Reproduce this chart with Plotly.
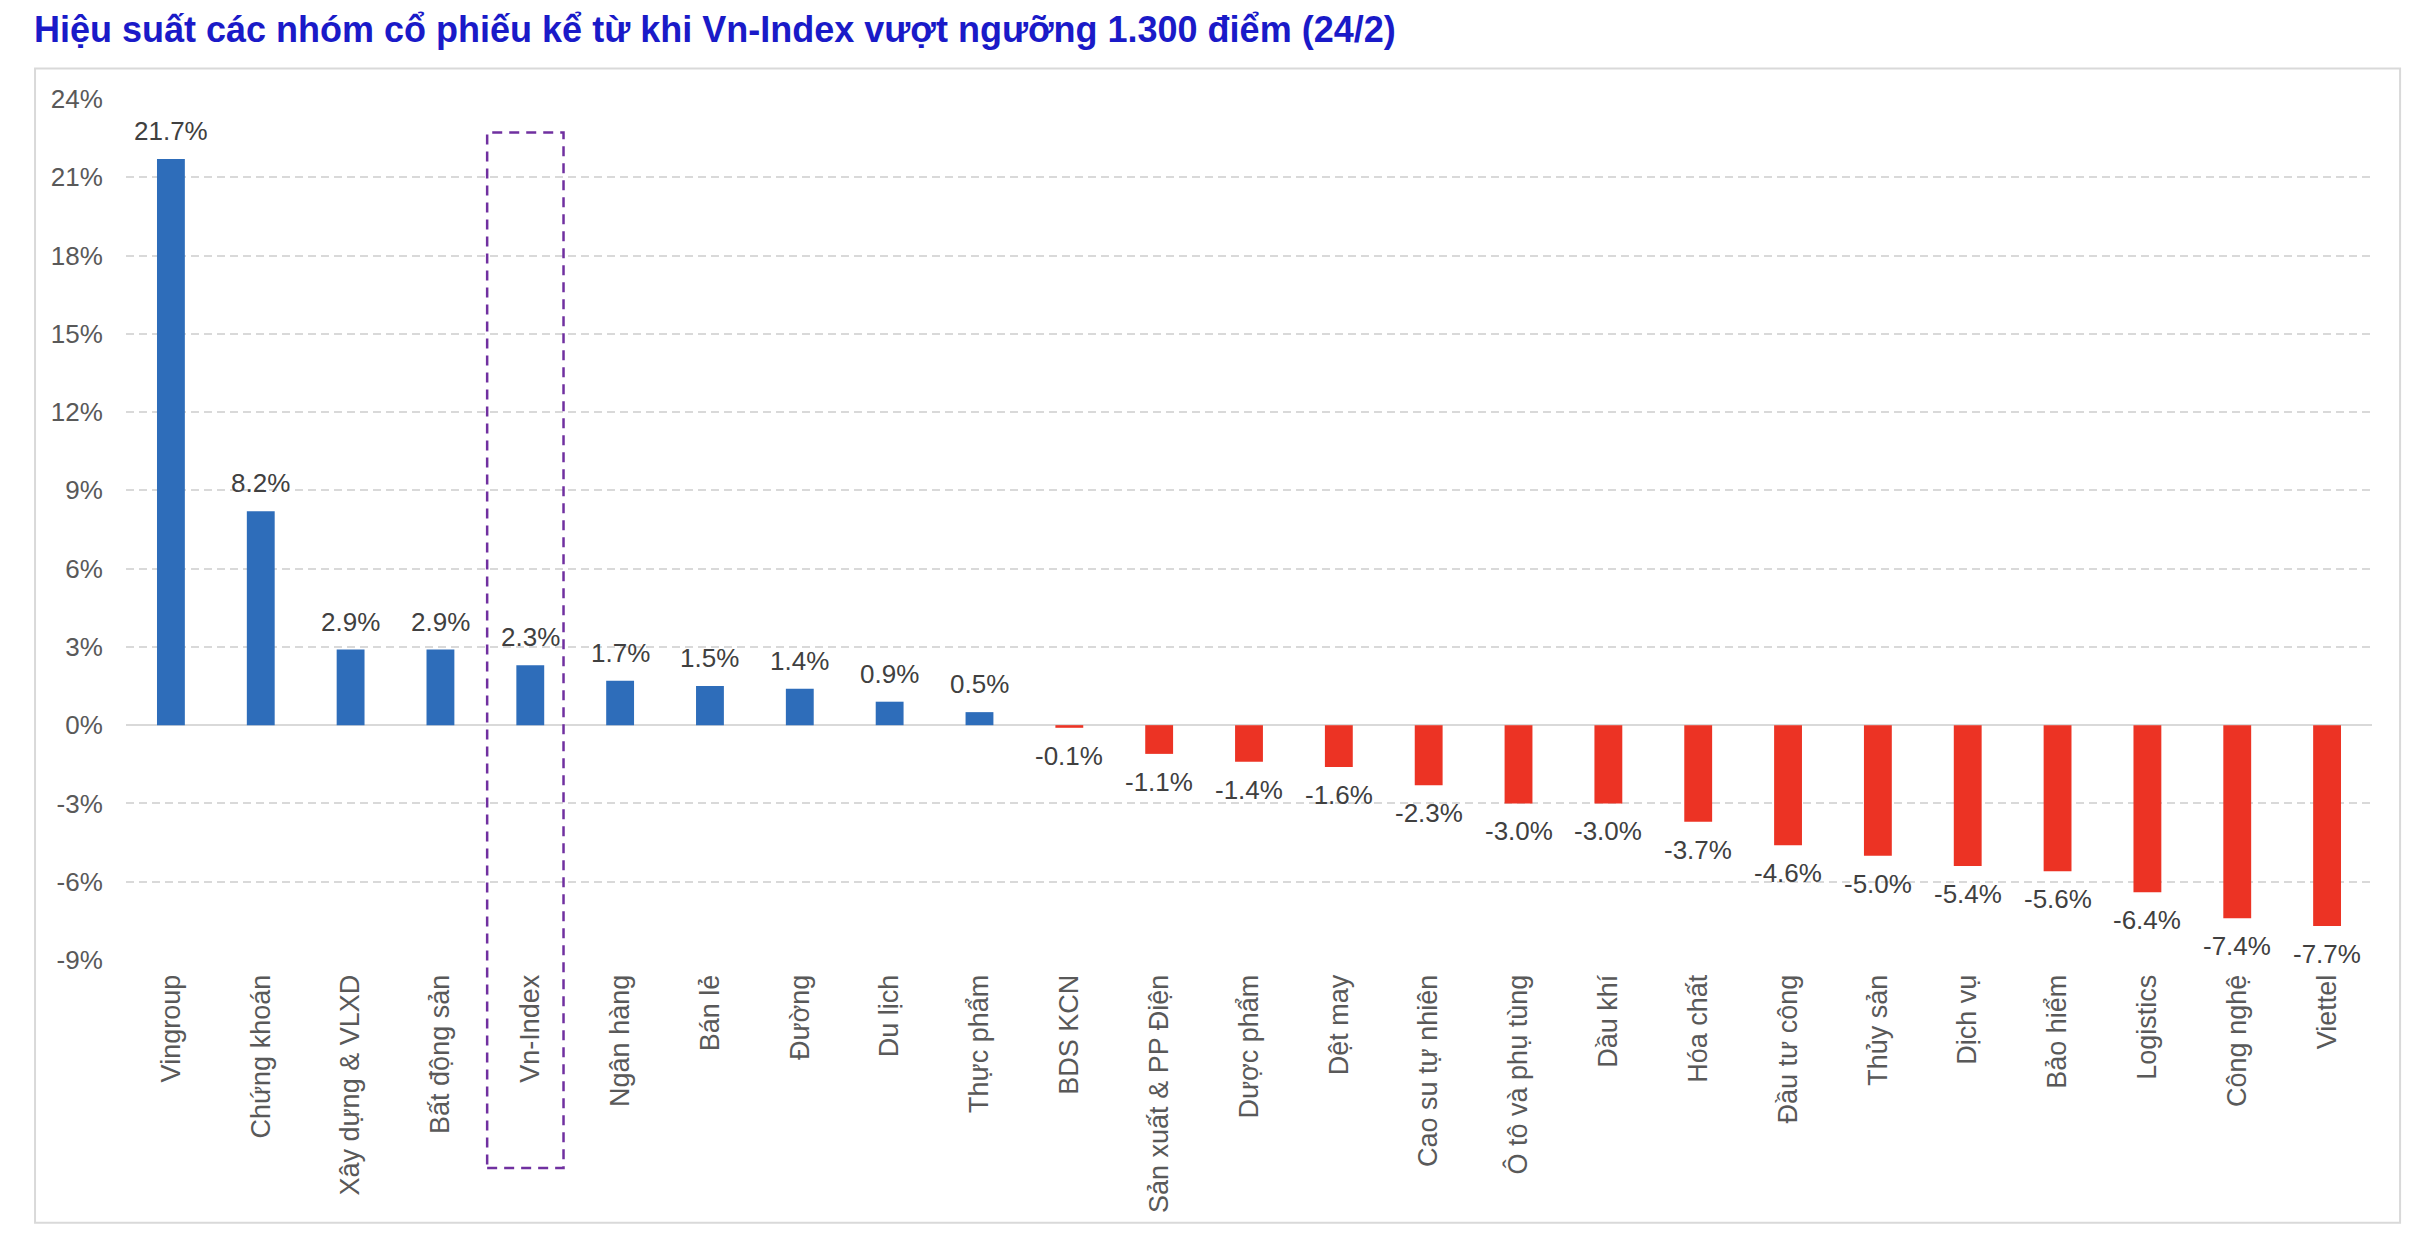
import plotly.graph_objects as go

categories = ["Vingroup", "Chứng khoán", "Xây dựng & VLXD", "Bất động sản", "Vn-Index",
              "Ngân hàng", "Bán lẻ", "Đường", "Du lịch", "Thực phẩm", "BDS KCN",
              "Sản xuất & PP Điện", "Dược phẩm", "Dệt may", "Cao su tự nhiên",
              "Ô tô và phụ tùng", "Dầu khí", "Hóa chất", "Đầu tư công", "Thủy sản",
              "Dịch vụ", "Bảo hiểm", "Logistics", "Công nghệ", "Viettel"]
values = [21.7, 8.2, 2.9, 2.9, 2.3, 1.7, 1.5, 1.4, 0.9, 0.5, -0.1,
          -1.1, -1.4, -1.6, -2.3, -3.0, -3.0, -3.7, -4.6, -5.0,
          -5.4, -5.6, -6.4, -7.4, -7.7]
y_ticks = [-9, -6, -3, 0, 3, 6, 9, 12, 15, 18, 21, 24]
y_tick_labels = [f"{v}%" for v in y_ticks]

BLUE = "#2E6DBA"
RED = "#EC3324"
colors = [BLUE if v >= 0 else RED for v in values]
labels = [f"{v:.1f}%" for v in values]

FONT = "Liberation Sans, Arial, sans-serif"

fig = go.Figure()
fig.add_trace(go.Bar(
    x=list(range(len(categories))), y=values,
    marker=dict(color=colors, line=dict(width=0)),
    width=0.31, hoverinfo="skip",
))

# data labels
for i, (v, t) in enumerate(zip(values, labels)):
    fig.add_annotation(x=i, y=v, xref="x", yref="y", text=t, showarrow=False,
                       yanchor="bottom" if v >= 0 else "top",
                       yshift=11 if v >= 0 else -11,
                       font=dict(family=FONT, size=26, color="#404040"))

# Vn-Index highlight box (dashed purple)
vn_idx = categories.index("Vn-Index")
fig.add_shape(type="rect", xref="x", yref="paper",
              x0=vn_idx - 0.48, x1=vn_idx + 0.37, y0=-0.2415, y1=0.961,
              line=dict(color="#7030A0", width=2.5, dash="10px,7px"),
              fillcolor="rgba(0,0,0,0)", layer="above")

# chart outer border
fig.add_shape(type="rect", xref="paper", yref="paper",
              x0=-0.0405, x1=1.0125, y0=-0.3053, y1=1.0355,
              line=dict(color="#D9D9D9", width=2), layer="below")

fig.update_layout(
    width=2432, height=1244,
    margin=dict(l=118, r=68, t=90.6, b=292.4),
    paper_bgcolor="white", plot_bgcolor="white",
    showlegend=False,
    title=dict(text="<b>Hiệu suất các nhóm cổ phiếu kể từ khi Vn-Index vượt ngưỡng 1.300 điểm (24/2)</b>",
               x=26 / 2432, xref="container", xanchor="left",
               y=1 - 9 / 1244, yref="container", yanchor="top",
               font=dict(family=FONT, size=36, color="#1A1AC8")),
    xaxis=dict(
        tickmode="array", tickvals=list(range(len(categories))), ticktext=categories,
        tickangle=-90, range=[-0.5, len(categories) - 0.5],
        showgrid=False, zeroline=False, showline=False,
        ticks="outside", ticklen=3, tickcolor="rgba(0,0,0,0)",
        tickfont=dict(family=FONT, size=27, color="#595959"),
    ),
    yaxis=dict(
        range=[-9, 24], tickmode="array", tickvals=y_ticks, ticktext=y_tick_labels,
        showgrid=True, gridcolor="#D9D9D9", gridwidth=2, griddash="8px,5px",
        zeroline=True, zerolinecolor="#D9D9D9", zerolinewidth=2,
        showline=False, ticks="outside", ticklen=17, tickcolor="rgba(0,0,0,0)",
        tickfont=dict(family=FONT, size=26, color="#595959"),
    ),
)

fig.write_html("out.html")
